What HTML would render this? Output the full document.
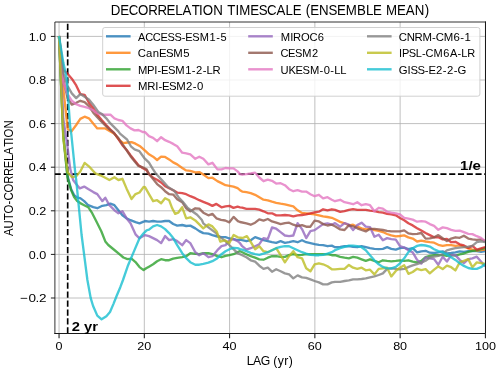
<!DOCTYPE html><html><head><meta charset="utf-8"><title>Decorrelation timescale</title>
<style>html,body{margin:0;padding:0;background:#fff;}svg{display:block;will-change:transform;}text{font-family:"Liberation Sans",sans-serif;fill:#000;}</style></head><body>
<svg width="500" height="373" viewBox="0 0 500 373">
<rect width="500" height="373" fill="#fff"/>
<clipPath id="c"><rect x="54.9" y="22.0" width="430.6" height="311.5"/></clipPath>
<line x1="59.05" y1="22.0" x2="59.05" y2="333.5" stroke="#b0b0b0" stroke-width="0.8"/>
<line x1="144.32" y1="22.0" x2="144.32" y2="333.5" stroke="#b0b0b0" stroke-width="0.8"/>
<line x1="229.59" y1="22.0" x2="229.59" y2="333.5" stroke="#b0b0b0" stroke-width="0.8"/>
<line x1="314.86" y1="22.0" x2="314.86" y2="333.5" stroke="#b0b0b0" stroke-width="0.8"/>
<line x1="400.13" y1="22.0" x2="400.13" y2="333.5" stroke="#b0b0b0" stroke-width="0.8"/>
<line x1="485.40" y1="22.0" x2="485.40" y2="333.5" stroke="#b0b0b0" stroke-width="0.8"/>
<line x1="54.9" y1="298.00" x2="485.5" y2="298.00" stroke="#b0b0b0" stroke-width="0.8"/>
<line x1="54.9" y1="254.40" x2="485.5" y2="254.40" stroke="#b0b0b0" stroke-width="0.8"/>
<line x1="54.9" y1="210.80" x2="485.5" y2="210.80" stroke="#b0b0b0" stroke-width="0.8"/>
<line x1="54.9" y1="167.20" x2="485.5" y2="167.20" stroke="#b0b0b0" stroke-width="0.8"/>
<line x1="54.9" y1="123.60" x2="485.5" y2="123.60" stroke="#b0b0b0" stroke-width="0.8"/>
<line x1="54.9" y1="80.00" x2="485.5" y2="80.00" stroke="#b0b0b0" stroke-width="0.8"/>
<line x1="54.9" y1="36.40" x2="485.5" y2="36.40" stroke="#b0b0b0" stroke-width="0.8"/>
<line x1="67.68" y1="333.5" x2="67.68" y2="22.0" stroke="#000" stroke-width="1.66" stroke-dasharray="6.24,2.69" stroke-dashoffset="0"/>
<line x1="54.9" y1="174.05" x2="485.5" y2="174.05" stroke="#000" stroke-width="1.66" stroke-dasharray="6.12,2.646" stroke-dashoffset="0.2"/>
<g clip-path="url(#c)" fill="none" stroke-width="2.35" stroke-linejoin="round" stroke-linecap="butt" stroke-opacity="0.8">
<path d="M59.0,36.0 L63.3,134.1 L67.5,175.5 L71.1,189.1 L74.1,195.1 L77.2,197.7 L80.2,198.1 L84.2,201.1 L88.2,205.2 L93.3,207.2 L97.3,208.2 L102.3,205.8 L106.3,205.2 L110.4,203.7 L114.4,205.2 L118.4,210.2 L122.4,215.2 L126.5,218.2 L130.5,220.2 L135.5,222.2 L139.5,223.3 L143.6,221.7 L145.0,221.0 L149.0,221.6 L153.1,221.0 L157.1,221.6 L161.1,221.6 L165.1,221.0 L169.1,221.0 L173.2,224.0 L177.2,225.6 L182.2,225.0 L186.2,226.0 L190.3,225.6 L195.3,228.4 L199.3,231.1 L203.3,233.1 L208.4,233.7 L212.4,235.1 L217.4,236.5 L221.5,237.1 L225.5,237.1 L229.5,238.5 L233.5,239.1 L237.6,240.1 L240.0,239.6 L242.2,240.2 L246.4,241.2 L250.7,240.2 L255.1,237.1 L259.3,238.7 L263.5,240.2 L267.8,241.2 L272.0,242.2 L276.2,242.8 L280.6,241.2 L284.9,242.8 L289.1,242.2 L293.3,241.2 L297.6,242.2 L302.0,240.2 L306.2,242.2 L310.4,243.2 L314.6,244.2 L318.9,244.8 L323.1,245.2 L327.5,246.2 L331.8,245.6 L335.0,247.2 L340.2,246.8 L344.5,246.2 L348.9,246.2 L353.1,246.8 L357.3,247.2 L361.6,246.2 L365.8,247.2 L370.0,248.2 L374.4,248.8 L378.7,249.2 L382.9,248.8 L387.1,247.2 L391.3,248.8 L395.8,249.6 L400.0,248.2 L404.2,247.6 L408.4,249.2 L412.7,248.2 L417.1,252.4 L421.3,251.4 L425.6,250.8 L429.8,252.7 L434.1,253.0 L438.3,252.4 L442.7,251.4 L446.9,253.5 L451.2,253.0 L455.4,252.4 L459.7,251.4 L463.9,251.9 L468.3,251.1 L472.4,250.8 L476.8,251.1 L481.0,251.9 L485.2,251.1" stroke="#1f77b4"/>
<path d="M59.0,36.0 L63.3,88.3 L67.6,128.7 L71.5,131.4 L76.2,125.0 L80.3,118.9 L84.6,116.7 L88.9,118.3 L93.2,123.6 L97.3,128.4 L101.3,128.4 L105.3,128.4 L110.4,131.4 L114.4,133.7 L119.4,140.1 L123.4,143.1 L127.5,142.5 L131.5,142.1 L135.5,143.7 L140.5,146.6 L145.6,151.2 L149.0,154.3 L153.1,156.7 L157.1,160.0 L161.1,156.7 L165.1,156.9 L169.1,159.4 L173.2,162.4 L177.2,164.4 L182.2,168.0 L186.2,170.4 L190.3,170.8 L195.3,172.4 L199.3,172.1 L203.3,174.5 L208.4,178.1 L212.4,177.7 L217.4,181.1 L221.5,183.1 L225.5,185.2 L229.5,185.8 L233.5,186.6 L237.6,188.2 L240.0,190.2 L242.2,191.6 L246.4,192.2 L250.7,193.2 L255.1,194.8 L259.3,197.2 L263.5,199.7 L267.8,200.3 L272.0,201.7 L276.2,202.9 L280.6,203.7 L284.9,204.3 L289.1,205.3 L293.3,206.3 L297.6,210.3 L302.0,212.9 L306.2,213.3 L310.4,213.8 L314.6,214.4 L318.9,215.4 L323.1,216.4 L327.5,217.0 L331.8,217.8 L335.0,219.3 L340.2,221.9 L344.5,223.3 L348.9,225.3 L353.1,224.7 L357.3,226.7 L361.6,228.3 L365.8,229.4 L370.0,228.8 L374.4,230.0 L378.7,230.8 L382.9,232.0 L387.1,234.0 L391.3,235.4 L395.8,236.4 L400.0,236.0 L404.2,235.4 L408.4,237.4 L412.7,238.6 L417.1,241.5 L421.3,240.6 L425.6,241.5 L429.8,242.2 L434.1,242.7 L438.3,244.8 L442.7,245.9 L446.9,245.1 L451.2,245.1 L455.4,245.9 L459.7,245.4 L463.9,246.7 L468.3,248.3 L472.4,249.6 L476.8,250.7 L481.0,250.2 L485.2,249.6" stroke="#ff7f0e"/>
<path d="M59.0,36.0 L63.3,136.3 L67.5,177.7 L71.1,190.1 L74.1,197.1 L77.2,201.1 L80.2,203.1 L84.2,205.2 L88.2,207.2 L92.2,213.2 L96.3,221.2 L101.3,231.3 L105.3,241.4 L108.3,245.0 L114.4,250.0 L119.4,254.1 L123.4,257.5 L127.5,259.1 L131.5,258.7 L135.5,262.1 L139.5,267.1 L143.6,270.1 L146.6,268.1 L149.0,266.7 L153.1,264.3 L157.1,261.2 L161.1,259.2 L165.1,260.2 L169.1,260.2 L173.2,258.6 L177.2,257.8 L182.2,257.2 L186.2,256.2 L190.3,253.2 L195.3,253.8 L199.3,254.2 L203.3,253.2 L208.4,253.2 L212.4,254.2 L217.4,256.2 L221.5,257.2 L225.5,255.8 L229.5,255.2 L233.5,254.2 L237.6,252.2 L240.0,251.2 L242.2,252.2 L246.4,254.2 L250.7,256.2 L255.1,257.7 L259.3,259.3 L263.5,259.7 L267.8,257.7 L272.0,256.2 L276.2,256.2 L280.6,256.9 L284.9,256.9 L289.1,255.2 L293.3,254.2 L297.6,255.2 L302.0,254.8 L306.2,254.2 L310.4,254.2 L314.6,254.2 L318.9,254.2 L323.1,254.2 L327.5,254.2 L331.8,255.2 L335.0,255.2 L340.2,256.9 L344.5,257.7 L348.9,258.3 L353.1,256.9 L357.3,257.7 L361.6,259.3 L365.8,260.9 L370.0,259.3 L374.4,260.9 L378.7,262.3 L382.9,260.3 L387.1,260.9 L391.3,261.3 L395.8,260.9 L400.0,260.3 L404.2,260.9 L408.4,260.3 L412.7,261.6 L417.1,262.4 L421.3,260.8 L425.6,257.2 L429.8,255.9 L434.1,255.1 L438.3,255.1 L442.7,255.1 L446.9,255.9 L451.2,255.1 L455.4,255.6 L459.7,254.3 L463.9,253.5 L468.3,251.9 L472.4,250.8 L476.8,250.3 L481.0,249.2 L485.2,248.2" stroke="#2ca02c"/>
<path d="M59.0,36.0 L63.3,69.8 L67.5,73.7 L71.8,78.7 L76.2,85.4 L80.3,94.1 L84.6,94.8 L88.9,102.8 L93.2,108.2 L97.3,114.7 L101.7,120.0 L105.9,124.8 L110.2,129.4 L114.4,133.4 L118.4,139.1 L122.4,145.2 L126.5,149.8 L130.5,155.2 L134.5,160.2 L138.5,165.3 L142.6,167.9 L146.6,170.3 L149.0,174.1 L153.1,177.7 L157.1,179.7 L161.1,182.5 L165.1,186.2 L169.1,188.2 L173.2,190.2 L177.2,192.6 L182.2,193.2 L186.2,194.2 L190.3,196.2 L195.3,198.2 L199.3,200.2 L203.3,201.8 L208.4,203.9 L212.4,205.9 L216.4,203.9 L221.5,207.3 L225.5,206.3 L229.5,205.9 L233.5,207.9 L237.6,206.7 L240.0,207.3 L242.2,207.7 L246.4,208.9 L250.7,208.9 L255.1,208.9 L259.3,209.7 L263.5,211.3 L267.8,213.3 L272.0,213.3 L276.2,215.4 L280.6,215.4 L284.9,215.0 L289.1,215.4 L293.3,216.4 L297.6,215.4 L302.0,215.0 L306.2,214.4 L310.4,213.3 L314.6,212.3 L318.9,211.7 L323.1,209.3 L327.5,210.3 L331.8,209.3 L335.0,209.8 L340.2,211.8 L344.5,211.2 L348.9,209.8 L353.1,209.2 L357.3,209.8 L361.6,209.8 L365.8,209.8 L370.0,210.6 L374.4,211.2 L378.7,212.2 L382.9,212.7 L387.1,213.9 L391.3,214.3 L395.8,215.3 L400.0,217.9 L404.2,220.3 L408.4,223.3 L412.7,225.4 L417.1,228.2 L421.3,230.6 L425.6,233.0 L429.8,235.1 L434.1,237.3 L438.3,237.3 L442.7,239.4 L446.9,238.9 L451.2,242.2 L455.4,241.8 L459.7,244.3 L463.9,245.4 L468.3,248.0 L472.4,245.9 L476.8,249.6 L481.0,248.3 L485.2,247.0" stroke="#d62728"/>
<path d="M59.0,36.0 L63.3,118.8 L67.4,146.0 L70.1,168.3 L73.1,180.0 L76.2,184.0 L79.8,188.4 L84.2,186.6 L88.2,189.1 L93.3,192.1 L97.3,194.1 L102.3,201.1 L105.3,197.7 L109.4,205.2 L114.4,210.2 L118.4,213.2 L122.4,211.2 L126.5,218.2 L130.5,223.3 L135.5,234.3 L139.5,238.3 L145.0,235.1 L149.0,236.1 L153.1,238.1 L157.1,240.1 L161.1,243.1 L165.1,236.1 L169.1,240.1 L173.2,239.1 L177.2,241.1 L182.2,245.2 L186.2,240.1 L190.3,243.1 L195.3,252.2 L199.3,255.2 L203.3,253.2 L208.4,257.2 L212.4,256.2 L217.4,250.2 L221.5,246.2 L225.5,245.2 L229.5,240.1 L233.5,239.1 L237.6,241.1 L240.0,243.2 L242.2,246.2 L246.4,249.6 L250.7,248.2 L255.1,246.2 L259.3,244.2 L263.5,238.1 L267.8,239.1 L272.0,227.5 L276.2,228.7 L280.6,232.1 L284.9,235.5 L289.1,236.1 L293.3,235.5 L297.6,223.1 L302.0,229.1 L306.2,238.1 L310.4,231.1 L314.6,230.1 L318.9,227.1 L323.1,224.1 L327.5,223.4 L331.8,224.7 L335.0,223.1 L340.2,226.7 L344.5,223.1 L348.9,224.7 L353.1,230.1 L357.3,225.1 L361.6,222.7 L365.8,226.7 L370.0,227.1 L374.4,236.7 L378.7,234.7 L382.9,240.2 L387.1,238.1 L391.3,239.1 L395.8,239.6 L400.0,246.2 L404.2,247.6 L408.4,250.2 L412.7,252.4 L417.1,259.9 L421.3,263.6 L425.6,257.5 L429.8,258.3 L434.1,259.1 L438.3,264.8 L442.7,256.7 L446.9,261.6 L451.2,255.1 L455.4,255.1 L459.7,259.9 L463.9,263.2 L468.3,259.1 L472.4,258.3 L476.8,256.7 L481.0,261.6 L485.2,266.4" stroke="#9467bd"/>
<path d="M59.0,36.0 L63.3,79.6 L67.6,98.1 L71.8,104.6 L76.2,102.8 L80.3,100.8 L84.6,102.2 L88.9,106.2 L93.3,112.7 L97.3,117.3 L101.3,121.4 L105.3,125.4 L109.4,129.4 L113.4,132.4 L114.4,133.7 L118.4,138.1 L122.4,144.1 L126.5,150.2 L130.5,156.2 L134.5,161.2 L138.5,165.9 L142.6,167.3 L146.6,169.3 L149.0,174.1 L153.1,179.1 L157.1,184.1 L161.1,187.2 L165.1,191.2 L169.1,194.2 L173.2,194.6 L177.2,199.2 L182.2,202.2 L186.2,208.3 L190.3,211.3 L195.3,208.3 L199.3,208.7 L203.3,212.7 L208.4,215.3 L212.4,213.9 L216.4,218.3 L221.0,219.9 L225.2,220.5 L229.4,222.3 L233.6,216.9 L237.9,221.1 L240.0,222.0 L246.4,223.4 L250.7,224.7 L255.1,222.7 L259.3,219.4 L263.5,220.6 L267.8,219.0 L272.0,221.4 L276.2,222.7 L280.6,224.1 L284.9,223.1 L289.1,222.7 L293.3,224.7 L297.6,226.1 L302.0,225.1 L306.2,226.7 L310.4,226.7 L314.6,220.6 L318.9,221.4 L323.1,224.1 L327.5,225.5 L331.8,224.7 L335.0,226.3 L340.2,229.4 L344.5,230.0 L348.9,225.3 L353.1,226.3 L357.3,228.3 L361.6,230.0 L365.8,231.4 L370.0,228.8 L374.4,228.8 L378.7,229.4 L382.9,230.0 L387.1,230.8 L391.3,231.4 L395.8,231.4 L400.0,231.4 L404.2,230.4 L408.4,233.4 L412.7,234.1 L417.1,233.8 L421.3,233.0 L425.6,238.6 L429.8,238.3 L434.1,237.3 L438.3,235.1 L442.7,238.3 L446.9,241.1 L451.2,238.6 L455.4,237.3 L459.7,237.8 L463.9,235.7 L468.3,238.6 L472.4,239.4 L476.8,239.9 L481.0,239.4 L485.2,241.1" stroke="#8c564b"/>
<path d="M59.0,36.0 L63.3,82.0 L67.6,94.1 L71.8,100.8 L76.2,104.2 L80.3,105.9 L84.6,106.9 L88.9,108.2 L93.2,110.2 L97.3,113.3 L102.3,114.7 L106.3,114.7 L110.4,114.7 L114.4,118.3 L118.4,120.0 L122.4,120.8 L126.5,125.4 L130.5,128.4 L134.5,130.4 L138.5,130.0 L142.6,132.0 L145.0,132.2 L149.0,136.2 L153.1,137.8 L157.1,141.2 L161.1,137.2 L165.1,140.2 L169.1,141.8 L173.2,143.9 L177.2,146.3 L182.2,152.7 L186.2,153.3 L190.3,154.3 L195.3,158.8 L199.3,156.7 L203.3,158.8 L208.4,164.4 L212.4,162.8 L217.4,169.4 L221.5,169.4 L225.5,168.0 L229.5,168.4 L233.5,168.4 L237.6,171.4 L240.0,174.1 L242.2,174.7 L246.4,174.1 L250.7,173.5 L255.1,172.7 L259.3,177.5 L263.5,181.2 L267.8,179.6 L272.0,180.8 L276.2,183.6 L280.6,183.2 L284.9,185.2 L289.1,189.2 L293.3,191.2 L297.6,190.2 L302.0,191.6 L306.2,191.6 L310.4,194.2 L314.6,196.2 L318.9,194.8 L323.1,198.3 L327.5,197.2 L331.8,199.7 L335.0,201.2 L340.2,199.8 L344.5,202.2 L348.9,203.2 L353.1,204.2 L357.3,202.2 L361.6,205.2 L365.8,204.2 L370.0,205.2 L374.4,211.2 L378.7,207.8 L382.9,208.6 L387.1,211.8 L391.3,212.7 L395.8,213.3 L400.0,214.3 L404.2,217.9 L408.4,218.7 L412.7,219.6 L417.1,221.7 L421.3,221.2 L425.6,221.7 L429.8,224.1 L434.1,225.8 L438.3,229.8 L442.7,227.4 L446.9,228.2 L451.2,229.8 L455.4,230.9 L459.7,230.6 L463.9,232.2 L468.3,233.8 L472.4,234.1 L476.8,236.2 L481.0,237.8 L485.2,241.1" stroke="#e377c2"/>
<path d="M59.0,36.0 L63.3,73.1 L67.6,86.0 L71.8,93.4 L76.2,98.1 L80.3,94.1 L84.6,96.8 L88.9,99.5 L93.2,104.8 L98.3,111.9 L102.3,114.3 L106.3,118.3 L110.4,123.4 L114.4,127.4 L118.4,131.4 L120.0,133.6 L123.6,136.6 L127.2,139.7 L130.9,146.3 L134.5,149.3 L139.3,151.1 L144.1,157.8 L149.0,162.6 L152.6,168.6 L156.2,174.1 L157.2,175.0 L162.1,180.4 L168.1,187.1 L174.1,190.7 L179.0,197.9 L182.6,201.6 L187.4,207.6 L192.2,211.2 L197.1,214.8 L201.9,220.0 L203.3,223.4 L208.4,227.4 L212.4,230.4 L216.4,233.4 L217.4,235.1 L221.5,238.1 L225.5,241.1 L229.5,245.2 L233.5,249.2 L237.6,253.2 L240.0,254.2 L242.2,255.2 L246.4,257.2 L250.7,260.3 L255.1,261.7 L259.3,265.7 L263.5,268.9 L267.8,267.7 L272.0,271.7 L276.2,269.3 L280.6,271.3 L284.9,273.4 L289.1,274.4 L293.3,278.4 L297.6,275.4 L302.0,277.4 L306.2,277.8 L310.4,279.4 L314.6,281.0 L318.9,282.4 L323.1,284.4 L327.5,284.4 L331.8,282.4 L335.0,281.8 L340.2,281.8 L344.5,281.0 L348.9,280.4 L353.1,279.4 L357.3,279.4 L361.6,279.0 L365.8,278.4 L370.0,277.4 L374.4,276.4 L378.7,275.0 L382.9,273.4 L387.1,268.9 L391.3,268.3 L395.8,268.9 L400.0,269.3 L404.2,268.9 L410.0,266.4 L412.7,265.3 L417.1,264.0 L421.3,262.7 L425.6,260.8 L429.8,257.5 L434.1,256.7 L438.3,255.9 L442.7,254.0 L446.9,250.3 L451.2,249.2 L455.4,248.2 L459.7,247.6 L463.9,247.1 L468.3,246.6 L472.4,245.9 L476.8,242.2 L481.0,241.4 L485.2,242.2" stroke="#7f7f7f"/>
<path d="M59.0,36.0 L63.3,138.1 L67.6,172.3 L71.8,177.0 L76.2,176.3 L80.3,171.6 L84.6,162.9 L88.9,166.3 L93.2,171.0 L95.3,173.3 L100.3,175.3 L104.3,177.3 L109.4,180.0 L114.4,177.3 L118.4,180.0 L122.4,178.8 L126.5,188.4 L131.5,199.1 L135.5,194.1 L139.5,192.5 L143.6,187.0 L145.0,187.2 L149.0,194.2 L153.1,201.2 L157.1,200.2 L161.1,203.3 L165.1,198.2 L169.1,200.2 L172.2,208.3 L175.2,213.9 L178.2,212.7 L182.2,207.3 L186.2,218.3 L190.3,217.3 L195.3,220.4 L199.3,224.4 L203.3,228.4 L208.4,224.4 L212.4,226.4 L216.7,231.4 L220.3,241.7 L224.6,240.4 L229.4,242.9 L233.6,235.0 L237.9,237.4 L242.7,238.0 L246.9,236.2 L250.5,241.7 L255.1,249.2 L259.3,246.2 L263.5,251.2 L267.8,252.2 L272.0,250.2 L276.2,248.2 L280.6,255.2 L284.9,262.3 L289.1,256.2 L293.3,251.2 L297.6,257.2 L302.0,258.3 L306.2,268.3 L310.4,271.3 L314.6,264.3 L318.9,263.3 L323.1,264.3 L327.5,266.3 L331.8,269.3 L335.0,269.3 L340.2,268.9 L344.5,268.9 L348.9,264.9 L353.1,267.7 L357.3,268.9 L361.6,267.7 L365.8,270.3 L370.0,269.7 L374.4,274.4 L378.7,268.9 L382.9,268.3 L387.1,267.7 L391.3,276.4 L395.8,270.9 L400.0,267.7 L404.2,265.3 L408.4,273.8 L412.7,272.0 L417.1,268.8 L421.3,270.1 L425.6,269.1 L429.8,273.3 L434.1,269.6 L438.3,266.4 L442.7,269.1 L446.9,265.6 L451.2,267.2 L455.4,270.4 L459.7,262.4 L463.9,260.8 L468.3,259.1 L472.4,267.2 L476.8,262.4 L481.0,263.2 L485.2,264.0" stroke="#bcbd22"/>
<path d="M59.0,36.0 L63.3,62.6 L66.7,78.0 L70.1,126.0 L71.4,135.0 L75.4,174.3 L76.2,180.0 L81.6,235.0 L84.1,254.3 L87.4,280.0 L90.7,298.1 L93.1,306.0 L97.3,315.6 L101.6,319.3 L106.4,316.2 L110.0,312.0 L113.6,303.6 L116.7,295.7 L120.3,287.2 L123.0,280.0 L128.1,265.2 L135.0,248.9 L139.5,238.3 L143.6,233.3 L146.6,230.3 L149.0,229.7 L153.1,226.4 L157.1,225.0 L161.1,226.4 L165.1,229.1 L169.1,233.1 L173.2,238.1 L177.2,245.2 L182.2,253.2 L186.2,258.2 L190.3,262.2 L195.3,264.7 L199.3,264.7 L203.3,263.9 L208.4,262.7 L212.4,261.2 L217.4,258.2 L221.5,254.2 L225.5,251.2 L229.5,249.2 L233.5,247.8 L237.6,248.2 L240.0,249.2 L242.2,249.6 L246.4,251.2 L250.7,252.8 L255.1,254.2 L259.3,254.8 L263.5,253.6 L267.8,252.2 L272.0,250.2 L276.2,248.2 L280.6,246.8 L284.9,246.2 L289.1,246.2 L293.3,248.2 L297.6,250.2 L302.0,252.2 L306.2,253.6 L310.4,254.8 L314.6,255.2 L318.9,255.2 L323.1,254.8 L327.5,253.6 L331.8,252.2 L335.0,250.2 L340.2,248.2 L344.5,246.8 L348.9,245.6 L353.1,245.6 L357.3,246.2 L361.6,247.2 L365.8,250.2 L370.0,255.2 L374.4,260.3 L378.7,264.3 L382.9,266.9 L387.1,268.3 L391.3,268.3 L395.8,266.9 L400.0,263.3 L404.2,258.3 L408.4,252.2 L412.7,248.2 L417.1,245.9 L421.3,245.0 L425.6,245.5 L429.8,246.6 L434.1,249.2 L438.3,251.1 L442.7,252.4 L446.9,254.6 L451.2,257.2 L455.4,259.9 L459.7,263.2 L463.9,265.9 L468.3,268.0 L472.4,268.8 L476.8,268.8 L481.0,267.2 L485.2,264.0" stroke="#17becf"/>
</g>
<path d="M54.9,333.5 L54.9,22.0 L485.5,22.0" fill="none" stroke="#111" stroke-width="0.86" stroke-linecap="square"/>
<path d="M54.9,333.5 L485.5,333.5 L485.5,22.0" fill="none" stroke="#1a1a1a" stroke-width="1.0" stroke-linecap="square"/>
<line x1="59.05" y1="333.5" x2="59.05" y2="338.2" stroke="#1a1a1a" stroke-width="1.05"/>
<text transform="translate(55.55,350.20) scale(1.0637,1)" x="-0.00" y="0" font-size="11.83">0</text>
<line x1="144.32" y1="333.5" x2="144.32" y2="338.2" stroke="#1a1a1a" stroke-width="1.05"/>
<text transform="translate(137.32,350.20) scale(1.0637,1)" x="-0.00 6.58" y="0" font-size="11.83">20</text>
<line x1="229.59" y1="333.5" x2="229.59" y2="338.2" stroke="#1a1a1a" stroke-width="1.05"/>
<text transform="translate(222.59,350.20) scale(1.0637,1)" x="-0.00 6.58" y="0" font-size="11.83">40</text>
<line x1="314.86" y1="333.5" x2="314.86" y2="338.2" stroke="#1a1a1a" stroke-width="1.05"/>
<text transform="translate(307.86,350.20) scale(1.0637,1)" x="-0.00 6.58" y="0" font-size="11.83">60</text>
<line x1="400.13" y1="333.5" x2="400.13" y2="338.2" stroke="#1a1a1a" stroke-width="1.05"/>
<text transform="translate(393.13,350.20) scale(1.0637,1)" x="-0.00 6.58" y="0" font-size="11.83">80</text>
<line x1="485.40" y1="333.5" x2="485.40" y2="338.2" stroke="#1a1a1a" stroke-width="1.05"/>
<text transform="translate(474.90,350.20) scale(1.0637,1)" x="-0.00 6.58 13.16" y="0" font-size="11.83">100</text>
<line x1="50.9" y1="298.00" x2="54.9" y2="298.00" stroke="#111" stroke-width="0.95"/>
<text transform="translate(19.49,302.25) scale(1.1437,1)" x="0.58 7.83 14.06 17.01" y="0" font-size="11.83">−0.2</text>
<line x1="50.9" y1="254.40" x2="54.9" y2="254.40" stroke="#111" stroke-width="0.95"/>
<text transform="translate(28.71,258.65) scale(1.0637,1)" x="-0.00 6.58 9.87" y="0" font-size="11.83">0.0</text>
<line x1="50.9" y1="210.80" x2="54.9" y2="210.80" stroke="#111" stroke-width="0.95"/>
<text transform="translate(28.71,215.05) scale(1.0637,1)" x="-0.00 6.58 9.87" y="0" font-size="11.83">0.2</text>
<line x1="50.9" y1="167.20" x2="54.9" y2="167.20" stroke="#111" stroke-width="0.95"/>
<text transform="translate(28.71,171.45) scale(1.0637,1)" x="-0.00 6.58 9.87" y="0" font-size="11.83">0.4</text>
<line x1="50.9" y1="123.60" x2="54.9" y2="123.60" stroke="#111" stroke-width="0.95"/>
<text transform="translate(28.71,127.85) scale(1.0637,1)" x="-0.00 6.58 9.87" y="0" font-size="11.83">0.6</text>
<line x1="50.9" y1="80.00" x2="54.9" y2="80.00" stroke="#111" stroke-width="0.95"/>
<text transform="translate(28.71,84.25) scale(1.0637,1)" x="-0.00 6.58 9.87" y="0" font-size="11.83">0.8</text>
<line x1="50.9" y1="36.40" x2="54.9" y2="36.40" stroke="#111" stroke-width="0.95"/>
<text transform="translate(28.71,40.65) scale(1.0637,1)" x="-0.00 6.58 9.87" y="0" font-size="11.83">1.0</text>
<text transform="translate(246.91,365.40) scale(1.0147,1)" x="-0.27 5.91 13.55 22.39 25.97 30.38 36.92 41.35" y="0" font-size="12.05">LAG (yr)</text>
<g transform="translate(13.4,178.2) rotate(-90)"><text transform="translate(-57.89,0.00) scale(0.9385,1)" x="0.06 8.18 16.87 24.20 33.73 38.04 46.57 55.75 64.04 72.29 80.05 86.79 95.13 101.61 105.06 114.55" y="0" font-size="12.05">AUTO-CORRELATION</text></g>
<text transform="translate(110.36,15.00) scale(0.9362,1)" x="0.30 10.58 19.56 29.64 40.48 50.28 60.02 69.19 77.16 87.01 94.66 98.74 109.96 120.63 124.81 133.56 137.78 149.50 158.43 167.43 177.57 187.11 194.70 204.16 208.76 213.59 222.93 233.07 242.00 251.36 263.46 273.01 280.60 290.06 294.44 306.16 315.44 325.14 335.93" y="0" font-size="14.20">DECORRELATION TIMESCALE (ENSEMBLE MEAN)</text>
<text transform="translate(71.70,330.80) scale(1.1439,1)" x="0.06 7.33 10.78 17.87" y="0" font-size="12.91" font-weight="bold">2 yr</text>
<text transform="translate(459.93,169.50) scale(1.1633,1)" x="-0.00 7.27 10.85" y="0" font-size="12.91" font-weight="bold">1/e</text>
<rect x="102.7" y="27.5" width="377.2" height="68.7" rx="2.2" fill="#fff" fill-opacity="0.8" stroke="#ccc" stroke-width="0.9"/>
<line x1="106.0" y1="36.3" x2="130.6" y2="36.3" stroke="#1f77b4" stroke-width="2.4" stroke-opacity="0.8"/>
<text transform="translate(138.00,40.75) scale(0.9333,1)" x="0.09 7.91 15.93 24.09 31.56 39.04 46.88 50.76 58.22 66.06 76.53 83.73 88.29" y="0" font-size="11.83">ACCESS-ESM1-5</text>
<line x1="106.0" y1="52.8" x2="130.6" y2="52.8" stroke="#ff7f0e" stroke-width="2.4" stroke-opacity="0.8"/>
<text transform="translate(138.00,57.25) scale(0.9610,1)" x="-0.28 8.21 15.34 21.93 29.18 36.77 46.99" y="0" font-size="11.83">CanESM5</text>
<line x1="106.0" y1="69.3" x2="130.6" y2="69.3" stroke="#2ca02c" stroke-width="2.4" stroke-opacity="0.8"/>
<text transform="translate(138.00,73.75) scale(0.9504,1)" x="0.07 9.53 17.03 20.50 24.27 31.60 39.28 49.59 56.68 61.13 68.22 72.21 78.48" y="0" font-size="11.83">MPI-ESM1-2-LR</text>
<line x1="106.0" y1="85.8" x2="130.6" y2="85.8" stroke="#d62728" stroke-width="2.4" stroke-opacity="0.8"/>
<text transform="translate(138.00,90.25) scale(0.9616,1)" x="0.01 9.57 17.86 21.29 24.99 32.23 39.81 50.03 57.05 61.43" y="0" font-size="11.83">MRI-ESM2-0</text>
<line x1="248.2" y1="36.3" x2="272.8" y2="36.3" stroke="#9467bd" stroke-width="2.4" stroke-opacity="0.8"/>
<text transform="translate(280.60,40.75) scale(0.9501,1)" x="0.07 10.05 13.15 21.40 30.33 39.04" y="0" font-size="11.83">MIROC6</text>
<line x1="248.2" y1="52.8" x2="272.8" y2="52.8" stroke="#8c564b" stroke-width="2.4" stroke-opacity="0.8"/>
<text transform="translate(280.60,57.25) scale(0.9348,1)" x="-0.16 7.99 15.44 23.27 33.73" y="0" font-size="11.83">CESM2</text>
<line x1="248.2" y1="69.3" x2="272.8" y2="69.3" stroke="#e377c2" stroke-width="2.4" stroke-opacity="0.8"/>
<text transform="translate(280.60,73.75) scale(0.9454,1)" x="-0.01 8.39 15.88 23.25 30.98 41.05 45.53 52.65 56.68 63.16" y="0" font-size="11.83">UKESM-0-LL</text>
<line x1="367.0" y1="36.3" x2="391.6" y2="36.3" stroke="#7f7f7f" stroke-width="2.4" stroke-opacity="0.8"/>
<text transform="translate(399.00,40.75) scale(0.9630,1)" x="-0.28 7.98 16.22 24.46 34.40 38.15 46.41 56.61 63.62 68.00" y="0" font-size="11.83">CNRM-CM6-1</text>
<line x1="367.0" y1="52.8" x2="391.6" y2="52.8" stroke="#bcbd22" stroke-width="2.4" stroke-opacity="0.8"/>
<text transform="translate(399.00,57.25) scale(0.9318,1)" x="0.10 3.10 10.40 18.09 24.83 28.57 37.13 47.62 54.76 62.90 66.74 73.15" y="0" font-size="11.83">IPSL-CM6A-LR</text>
<line x1="367.0" y1="69.3" x2="391.6" y2="69.3" stroke="#17becf" stroke-width="2.4" stroke-opacity="0.8"/>
<text transform="translate(399.00,73.75) scale(0.9598,1)" x="-0.16 8.93 11.95 19.23 26.91 30.62 38.54 45.58 49.97 57.00 60.88" y="0" font-size="11.83">GISS-E2-2-G</text>
</svg></body></html>
